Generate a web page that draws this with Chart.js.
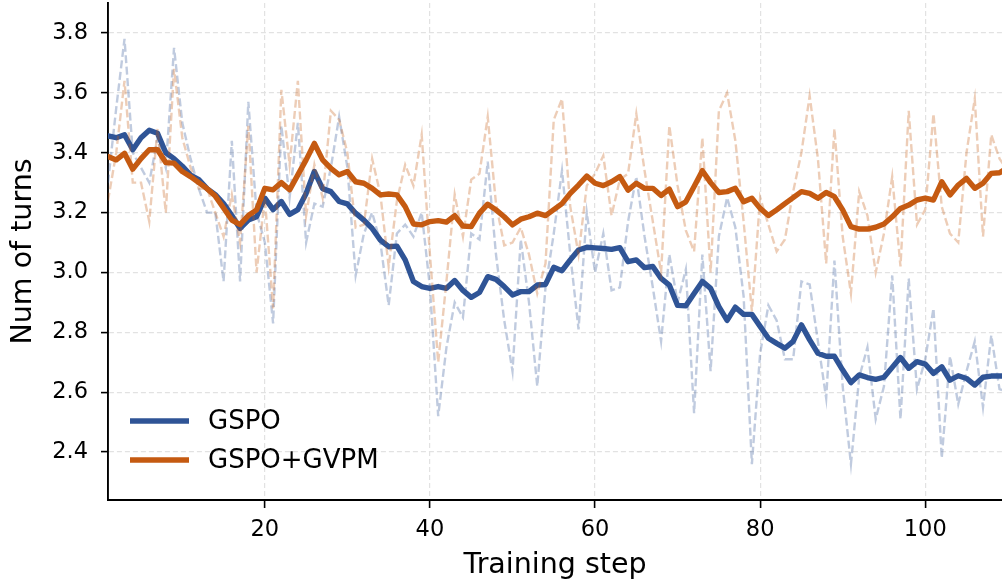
<!DOCTYPE html>
<html>
<head>
<meta charset="utf-8">
<title>Num of turns</title>
<script src="https://cdn.jsdelivr.net/npm/chart.js@4.4.1/dist/chart.umd.min.js"></script>
<style>
  html, body { margin:0; padding:0; background:#fff; }
  #wrap { width:1002px; height:583px; }
</style>
</head>
<body>
<div id="wrap"><canvas id="chart" width="1002" height="583"></canvas></div>
<script>
// values, one per training step (1..110)
const gspoRaw = [
  3.30,3.55,3.78,3.40,3.35,3.30,3.45,3.35,3.75,3.50, 3.38,3.28,3.20,3.20,2.97,3.44,2.97,3.57,3.20,3.10,
  2.83,3.49,3.25,3.50,3.10,3.23,3.22,3.35,3.52,3.35, 2.99,3.13,3.20,3.10,2.89,3.13,3.16,3.12,3.20,2.95,
  2.52,2.75,2.90,2.85,3.13,3.11,3.37,3.06,2.84,2.67, 3.11,2.90,2.62,2.95,3.13,3.34,3.06,2.81,3.20,3.00,
  3.13,2.94,2.95,3.17,3.32,3.12,2.95,2.77,3.06,2.90, 3.01,2.53,3.06,2.67,3.12,3.25,3.15,2.92,2.36,2.73,
  2.89,2.84,2.71,2.71,2.97,2.96,2.77,2.58,3.04,2.62, 2.36,2.65,2.75,2.51,2.62,2.99,2.51,2.98,2.61,2.71,
  2.88,2.38,2.72,2.56,2.67,2.77,2.55,2.79,2.61,2.60
];
const gspoSmooth = [
  3.456,3.450,3.460,3.410,3.450,3.475,3.465,3.400,3.380,3.355, 3.325,3.310,3.280,3.260,3.230,3.190,3.147,3.175,3.186,3.248,
  3.210,3.237,3.194,3.210,3.264,3.337,3.280,3.270,3.237,3.229, 3.198,3.175,3.147,3.108,3.086,3.088,3.042,2.970,2.953,2.947,
  2.953,2.947,2.973,2.940,2.917,2.933,2.986,2.977,2.953,2.925, 2.936,2.936,2.958,2.960,3.017,3.006,3.042,3.075,3.084,3.082,
  3.080,3.077,3.083,3.036,3.042,3.016,3.020,2.980,2.958,2.890, 2.889,2.930,2.970,2.947,2.886,2.840,2.884,2.860,2.860,2.820,
  2.780,2.763,2.747,2.770,2.825,2.775,2.730,2.720,2.720,2.674, 2.632,2.658,2.649,2.643,2.650,2.683,2.716,2.680,2.702,2.694,
  2.663,2.685,2.640,2.655,2.646,2.624,2.650,2.654,2.654,2.655
];
const gvpmRaw = [
  3.24,3.40,3.64,3.30,3.30,3.17,3.48,3.20,3.68,3.45, 3.35,3.28,3.28,3.20,3.12,3.26,3.10,3.49,3.00,3.25,
  2.88,3.61,3.36,3.64,3.19,3.36,3.25,3.54,3.51,3.40, 3.15,3.16,3.38,3.26,3.02,3.24,3.36,3.29,3.46,3.06,
  2.70,2.97,3.26,3.12,3.31,3.33,3.52,3.23,3.09,3.10, 3.15,3.06,2.93,3.03,3.51,3.58,3.22,3.06,3.29,3.33,
  3.39,3.19,3.31,3.33,3.53,3.34,3.17,3.00,3.49,3.29, 3.14,3.07,3.45,3.00,3.54,3.60,3.44,3.17,2.87,3.25,
  3.16,3.07,3.11,3.27,3.40,3.59,3.38,3.03,3.48,3.12, 2.93,3.27,3.19,3.00,3.13,3.32,3.02,3.54,3.16,3.21,
  3.53,3.22,3.13,3.10,3.40,3.58,3.12,3.46,3.38,3.34
];
const gvpmSmooth = [
  3.387,3.376,3.398,3.345,3.380,3.410,3.410,3.367,3.365,3.337, 3.320,3.300,3.280,3.255,3.215,3.175,3.160,3.190,3.209,3.281,
  3.276,3.300,3.276,3.326,3.376,3.431,3.376,3.348,3.326,3.337, 3.303,3.298,3.281,3.259,3.262,3.259,3.220,3.162,3.159,3.170,
  3.173,3.168,3.190,3.155,3.153,3.198,3.228,3.209,3.186,3.159, 3.178,3.186,3.198,3.190,3.210,3.230,3.264,3.292,3.322,3.298,
  3.290,3.303,3.320,3.275,3.298,3.281,3.281,3.257,3.278,3.220, 3.236,3.287,3.340,3.300,3.267,3.270,3.281,3.236,3.248,3.214,
  3.190,3.209,3.230,3.250,3.270,3.264,3.248,3.267,3.253,3.209, 3.153,3.145,3.145,3.151,3.162,3.186,3.214,3.225,3.242,3.248,
  3.242,3.303,3.259,3.292,3.314,3.281,3.298,3.331,3.333,3.350
];
const steps = gspoRaw.map((_, i) => i + 1);
const xTicks = [20, 40, 60, 80, 100];
const yTicks = [2.4, 2.6, 2.8, 3.0, 3.2, 3.4, 3.6, 3.8];
const seriesNames = ['GSPO', 'GSPO+GVPM'];

const BLUE = 'rgb(47,84,150)';
const ORANGE = 'rgb(197,90,17)';
const FONT = "'DejaVu Sans', sans-serif";

const pts = arr => arr.map((v, i) => ({ x: steps[i], y: v }));

function rawLine(data, rgb, order){
  return {
    label: '_raw', data: pts(data), order,
    borderColor: rgb.replace('rgb', 'rgba').replace(')', ',0.3)'),
    borderWidth: 2.4, borderDash: [8, 3.5], pointRadius: 0, tension: 0, fill: false
  };
}
function smoothLine(label, data, rgb, order){
  return {
    label, data: pts(data), order,
    borderColor: rgb, borderWidth: 5.4, borderJoinStyle: 'round', borderCapStyle: 'round',
    pointRadius: 0, tension: 0, fill: false
  };
}

// legend drawn inside the plot, bottom-left, matplotlib style
const innerLegend = {
  id: 'innerLegend',
  afterDraw(chart){
    const ctx = chart.ctx;
    const items = chart.data.datasets.filter(d => d.label !== '_raw');
    ctx.save();
    ctx.font = `26px ${FONT}`;
    ctx.textBaseline = 'middle';
    ctx.fillStyle = '#000';
    items.forEach((d, i) => {
      const y = 421 + i * 39;
      ctx.strokeStyle = d.borderColor;
      ctx.lineWidth = 5.4;
      ctx.beginPath(); ctx.moveTo(130, y); ctx.lineTo(189, y); ctx.stroke();
      ctx.fillText(d.label, 208, y + 1);
    });
    ctx.restore();
  }
};

new Chart(document.getElementById('chart').getContext('2d'), {
  type: 'line',
  data: {
    datasets: [
      rawLine(gspoRaw, BLUE, 4),
      smoothLine(seriesNames[0], gspoSmooth, BLUE, 3),
      rawLine(gvpmRaw, ORANGE, 2),
      smoothLine(seriesNames[1], gvpmSmooth, ORANGE, 1)
    ]
  },
  options: {
    responsive: false, animation: false, devicePixelRatio: 1,
    layout: { padding: { top: 3, right: 0, bottom: 0, left: 0 } },
    plugins: { legend: { display: false }, tooltip: { enabled: false } },
    scales: {
      x: {
        type: 'linear', min: 1, max: 109.3,
        afterBuildTicks: s => { s.ticks = xTicks.map(v => ({ value: v })); },
        afterFit: s => { s.height = 83; s.paddingLeft = 0; s.paddingRight = 0; },
        ticks: { autoSkip: false, maxRotation: 0, padding: 9, color: '#000',
                 font: { family: FONT, size: 22.5 }, callback: v => String(v) },
        grid: { color: '#e2e2e2', lineWidth: 1.2, tickLength: 8, tickColor: '#000', tickWidth: 1.6 },
        border: { display: true, color: '#000', width: 1.9, dash: [5, 3] },
        title: { display: true, text: 'Training step', color: '#000',
                 font: { family: FONT, size: 28.5 }, padding: { top: 0, bottom: 0 } }
      },
      y: {
        type: 'linear', min: 2.24, max: 3.9,
        afterBuildTicks: s => { s.ticks = yTicks.map(v => ({ value: v })); },
        afterFit: s => { s.width = 108; s.paddingTop = 0; s.paddingBottom = 0; },
        ticks: { autoSkip: false, padding: 13, color: '#000',
                 font: { family: FONT, size: 22.5 }, callback: v => v.toFixed(1) },
        grid: { color: '#e2e2e2', lineWidth: 1.2, tickLength: 7, tickColor: '#000', tickWidth: 1.6 },
        border: { display: true, color: '#000', width: 1.9, dash: [5, 3] },
        title: { display: true, text: 'Num of turns', color: '#000',
                 font: { family: FONT, size: 28.5 }, padding: { top: 6, bottom: 0 } }
      }
    }
  },
  plugins: [innerLegend]
});
</script>
</body>
</html>
